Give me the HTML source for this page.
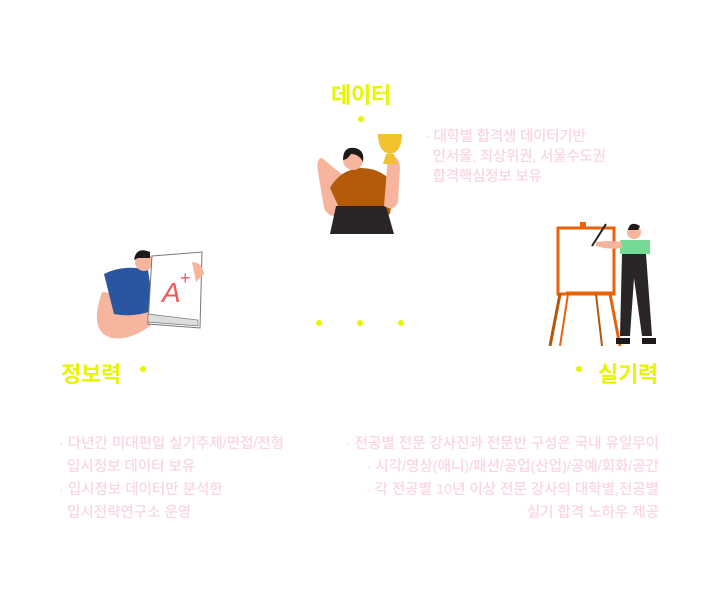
<!DOCTYPE html>
<html><head><meta charset="utf-8"><style>
body{margin:0;width:720px;height:600px;background:#fff;position:relative;overflow:hidden;font-family:"Liberation Sans","Noto Sans CJK KR",sans-serif}
.t{position:absolute;color:#e8f500;font-weight:bold;font-size:22px;letter-spacing:-0.3px}
.d{position:absolute;width:6px;height:6px;border-radius:50%;background:#e8f500}
.p{position:absolute;color:#fad6de;font-size:14.5px;line-height:23px;letter-spacing:0px;white-space:nowrap;font-weight:500}
svg{position:absolute}
</style></head><body>
<div class="t" style="left:331px;top:78px">데이터</div>
<div class="d" style="left:358px;top:116px"></div>
<div class="p" style="left:425px;top:127px;line-height:20px;letter-spacing:-0.2px">· 대학별 합격생 데이터기반<br>&nbsp;&nbsp;인서울, 최상위권, 서울수도권<br>&nbsp;&nbsp;합격핵심정보 보유</div>

<div class="d" style="left:316px;top:320px"></div>
<div class="d" style="left:357px;top:320px"></div>
<div class="d" style="left:398px;top:320px"></div>

<div class="t" style="left:61px;top:357px">정보력</div>
<div class="d" style="left:140px;top:366px"></div>
<div class="d" style="left:576px;top:366px"></div>
<div class="t" style="left:598px;top:357px">실기력</div>

<div class="p" style="left:59px;top:433px">· 다년간 미대편입 실기주제/면접/전형<br>&nbsp;&nbsp;입시정보 데이터 보유<br>· 입시정보 데이터만 분석한<br>&nbsp;&nbsp;입시전략연구소 운영</div>
<div class="p" style="right:61px;top:433px;text-align:right">· 전공별 전문 강사진과 전문반 구성은 국내 유일무이<br>· 시각/영상(애니)/패션/공업(산업)/공예/회화/공간<br>· 각 전공별 10년 이상 전문 강사의 대학별,전공별<br>실기 합격 노하우 제공</div>

<!-- top woman -->
<svg style="left:308px;top:128px" width="105" height="106" viewBox="0 0 105 106">
<path d="M14 30 q-6 0 -4 14 l6 36 q4 10 16 8 l16 -30 z" fill="#f7b59e"/>
<path d="M22 60 q10 -18 30 -20 q24 0 34 18 l-4 28 q-20 6 -48 0 z" fill="#b35a0b"/>
<path d="M28 78 h50 l8 28 h-64 z" fill="#2a2626"/>
<circle cx="45" cy="32" r="10" fill="#f7b59e"/>
<path d="M35 32 q0 -14 12 -12 q10 2 8 14 q-4 -8 -12 -8 q-4 6 -8 6z" fill="#1f1a1a"/>
<path d="M80 28 q10 -2 12 10 l-2 36 q-4 10 -14 4 z" fill="#f7b59e"/>
<path d="M70 6 h24 q0 18 -12 20 q-12 -2 -12 -20z M78 26 h8 l3 10 h-14z" fill="#f2c12e"/>
</svg>

<!-- left man -->
<svg style="left:92px;top:246px" width="120" height="96" viewBox="0 0 120 96">
<path d="M10 46 q-14 40 10 46 q22 4 50 -22 l-10 -20 z" fill="#f7b59e"/>
<path d="M12 28 q20 -10 44 -4 l6 40 q-20 8 -40 4 z" fill="#2a55a0"/>
<circle cx="52" cy="16" r="9" fill="#f7b59e"/>
<path d="M42 14 q2 -14 16 -8 v6 h-12z" fill="#1f1a1a"/>
<path d="M60 10 l50 -4 l-2 76 l-52 -4 z" fill="#fff" stroke="#777" stroke-width="1"/>
<path d="M56 68 l50 6 v6 l-50 -4z" fill="#ddd" stroke="#777" stroke-width="0.7"/>
<text x="70" y="56" font-size="28" fill="#ef5a5a" font-style="italic" font-family="Liberation Sans">A</text>
<text x="88" y="38" font-size="18" fill="#ef5a5a" font-family="Liberation Sans">+</text>
<path d="M100 16 q10 0 12 12 l-8 8 z" fill="#f7b59e"/>
</svg>

<!-- right painter -->
<svg style="left:546px;top:220px" width="118" height="126" viewBox="0 0 118 126">
<rect x="12" y="8" width="56" height="66" fill="#fff" stroke="#e8620a" stroke-width="3"/>
<rect x="34" y="2" width="6" height="6" fill="#e8620a"/>
<line x1="14" y1="74" x2="4" y2="126" stroke="#b5560a" stroke-width="3"/>
<line x1="22" y1="74" x2="14" y2="126" stroke="#e8620a" stroke-width="2"/>
<line x1="50" y1="74" x2="56" y2="126" stroke="#b5560a" stroke-width="2"/>
<line x1="64" y1="74" x2="74" y2="126" stroke="#e8620a" stroke-width="3"/>
<line x1="20" y1="73" x2="68" y2="73" stroke="#e8620a" stroke-width="3"/>
<circle cx="88" cy="12" r="7" fill="#f7b59e"/>
<path d="M82 10 q2 -10 12 -4 l-2 4z" fill="#1f1a1a"/>
<path d="M74 20 h30 v14 h-30z" fill="#74da93"/>
<path d="M76 34 h24 l6 82 h-10 l-8 -58 l-4 58 h-10 z" fill="#2a2626"/>
<path d="M70 118 h14 v6 h-14z M96 118 h14 v6 h-14z" fill="#1f1a1a"/>
<line x1="46" y1="26" x2="60" y2="4" stroke="#222" stroke-width="2"/>
<path d="M50 22 q14 -2 26 0 v6 q-14 2 -26 -2z" fill="#f7b59e"/>
</svg>
</body></html>
